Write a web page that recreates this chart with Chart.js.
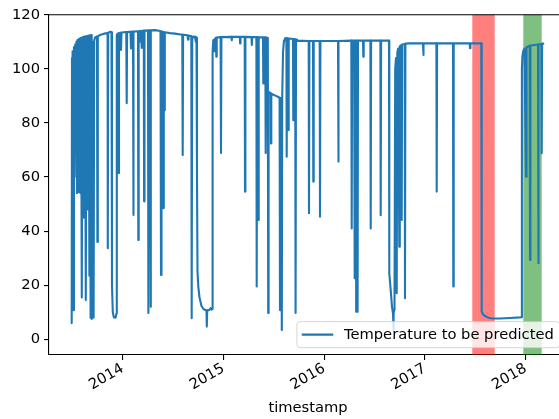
<!DOCTYPE html>
<html>
<head>
<meta charset="utf-8">
<script src="https://cdn.jsdelivr.net/npm/chart.js@4/dist/chart.umd.min.js"></script>
<style>
  html, body { margin: 0; padding: 0; background: #fff; overflow: hidden; }
  #wrap { width: 580px; height: 419px; position: relative; }
</style>
</head>
<body>
<div id="wrap"><canvas id="chart"></canvas></div>
<script>
// timestamps as decimal years
const timestamps = [
    2013.4938, 2013.4968, 2013.5027, 2013.5107, 2013.5166, 2013.5226, 2013.5285, 2013.5345,
    2013.5404, 2013.5464, 2013.5514, 2013.5583, 2013.5643, 2013.5692, 2013.5742, 2013.5802,
    2013.5861, 2013.5940, 2013.6000, 2013.6060, 2013.6119, 2013.6189, 2013.6258, 2013.6338,
    2013.6397, 2013.6457, 2013.6516, 2013.6586, 2013.6635, 2013.6695, 2013.6754, 2013.6814,
    2013.6864, 2013.6923, 2013.6973, 2013.7012, 2013.7072, 2013.7112, 2013.7171, 2013.7251,
    2013.7449, 2013.7489, 2013.7529, 2013.7747, 2013.8144, 2013.8501, 2013.8521, 2013.8561,
    2013.8789, 2013.8888, 2013.8938, 2013.9018, 2013.9117, 2013.9286, 2013.9385, 2013.9415,
    // 2014
    2013.9484, 2013.9583, 2013.9633, 2013.9782, 2013.9831, 2013.9881, 2014.0357, 2014.0397,
    2014.0437, 2014.0774, 2014.0824, 2014.0874, 2014.1023, 2014.1052, 2014.1092, 2014.1519,
    2014.1549, 2014.1588, 2014.1747, 2014.1777, 2014.1817, 2014.1866, 2014.1916, 2014.2095,
    2014.2124, 2014.2164, 2014.2511, 2014.2551, 2014.2611, 2014.2730, 2014.2769, 2014.2809,
    2014.3206, 2014.3752, 2014.3802, 2014.3851, 2014.3980, 2014.4030, 2014.4080, 2014.4129,
    2014.4179, 2014.4695, 2014.5192, 2014.5916, 2014.5956, 2014.5996, 2014.6283, 2014.6432,
    2014.6482, 2014.6532, 2014.6810, 2014.6849, 2014.6899, 2014.7028, 2014.7177, 2014.7256,
    2014.7326, 2014.7375, 2014.7425, 2014.7504, 2014.7623, 2014.7822, 2014.8020, 2014.8219,
    2014.8318, 2014.8348, 2014.8388, 2014.8616, 2014.8715, 2014.8814, 2014.8884, 2014.8924,
    2014.8993,
    // 2015
    2014.9063, 2014.9142, 2014.9261, 2014.9291, 2014.9331, 2014.9718, 2014.9757, 2014.9797,
    2015.0800, 2015.0830, 2015.0869, 2015.1624, 2015.1653, 2015.1693, 2015.2110, 2015.2140,
    2015.2179, 2015.2785, 2015.2815, 2015.2854, 2015.3271, 2015.3301, 2015.3341, 2015.3430,
    2015.3460, 2015.3499, 2015.3926, 2015.3956, 2015.3996, 2015.4155, 2015.4194, 2015.4234,
    2015.4403, 2015.4443, 2015.4482, 2015.4701, 2015.4721, 2015.4750, 2015.5217, 2015.5574,
    2015.5614, 2015.5654, 2015.5763, 2015.5793, 2015.5832,
    // 2015 - 2016
    2015.5912, 2015.6011, 2015.6110, 2015.6249, 2015.6279, 2015.6318, 2015.6407, 2015.6437,
    2015.6477, 2015.6904, 2015.6934, 2015.6973, 2015.7122, 2015.7162, 2015.7202, 2015.7301,
    2015.8463, 2015.8492, 2015.8532, 2015.8889, 2015.8919, 2015.8959, 2015.9554, 2015.9584,
    2015.9624, 2016.1371, 2016.1401, 2016.1440, 2016.2692, 2016.2731, 2016.2771, 2016.2969,
    2016.3009, 2016.3049, 2016.3138, 2016.3177, 2016.3217, 2016.3277, 2016.3316, 2016.3356,
    2016.3852, 2016.3882, 2016.3922, 2016.4587, 2016.4617, 2016.4656, 2016.5579, 2016.5609,
    2016.5649, 2016.6433, 2016.6463, 2016.6602, 2016.6731, 2016.6830, 2016.6870, 2016.6909,
    2016.6979, 2016.7048, 2016.7128, 2016.7197, 2016.7257, 2016.7346, 2016.7455, 2016.7505,
    2016.7664, 2016.7694, 2016.7733, 2016.7992, 2016.8021, 2016.8061, 2016.8518,
    // 2017
    2016.9808, 2016.9838, 2016.9877, 2017.1138, 2017.1167, 2017.1207, 2017.2785, 2017.2815,
    2017.2855, 2017.4443, 2017.4473, 2017.4513, 2017.5594, 2017.5634, 2017.5763, 2017.5962,
    2017.6289, 2017.6656, 2017.7451, 2017.8444, 2017.9436, 2017.9585,
    // 2018
    2017.9625, 2017.9674, 2017.9754, 2017.9883, 2018.0032, 2018.0081, 2018.0399, 2018.0429,
    2018.0468, 2018.1223, 2018.1253, 2018.1292, 2018.1560, 2018.1590, 2018.1630, 2018.1749
];

const temperatures = [
    6.0, 104.0, 106.5, 10.8, 108.0, 60.0, 109.0, 92.0,
    110.0, 54.0, 110.6, 54.5, 111.0, 92.0, 111.2, 54.0,
    111.5, 15.5, 111.6, 45.0, 111.8, 45.5, 112.0, 14.5,
    112.0, 48.0, 112.2, 88.0, 112.3, 23.5, 112.4, 8.0,
    112.5, 7.5, 109.5, 45.0, 110.0, 8.0, 110.5, 111.5,
    112.0, 36.0, 112.0, 112.5, 113.0, 113.2, 33.7, 113.3,
    113.7, 113.5, 20.0, 10.0, 8.2, 8.0, 9.5, 112.5,
    // 2014
    113.0, 61.5, 113.2, 113.3, 107.0, 113.4, 113.6, 87.3,
    113.6, 113.7, 107.5, 113.7, 113.8, 46.0, 113.8, 113.9,
    36.7, 113.9, 114.0, 110.0, 114.0, 107.7, 114.0, 114.1,
    51.0, 114.1, 114.2, 9.7, 114.2, 114.2, 12.0, 114.2,
    114.3, 114.0, 23.8, 113.8, 113.7, 48.5, 113.6, 84.7,
    113.5, 113.2, 113.0, 112.6, 68.1, 112.6, 112.5, 112.4,
    110.8, 112.3, 112.0, 7.8, 111.0, 111.9, 111.8, 110.0,
    111.5, 60.0, 25.0, 19.5, 15.5, 12.3, 11.2, 10.8,
    10.8, 4.7, 10.6, 10.9, 11.5, 11.0, 11.2, 106.0,
    110.6,
    // 2015
    106.5, 111.0, 111.5, 104.5, 111.6, 111.7, 68.9, 111.7,
    111.8, 110.6, 111.8, 111.8, 109.4, 111.8, 111.8, 54.6,
    111.8, 111.7, 108.8, 111.7, 111.7, 19.5, 111.7, 111.6,
    44.1, 111.6, 111.6, 94.6, 111.6, 111.6, 68.9, 111.5,
    111.5, 9.7, 91.5, 91.0, 72.4, 90.8, 90.0, 89.3,
    10.8, 89.2, 89.1, 3.4, 89.0,
    // 2015 - 2016
    106.0, 110.5, 111.3, 111.3, 67.5, 111.3, 111.2, 77.4,
    111.2, 111.0, 81.0, 111.0, 110.9, 9.7, 110.8, 110.4,
    110.3, 46.6, 110.3, 110.3, 58.3, 110.3, 110.3, 45.3,
    110.3, 110.3, 65.7, 110.3, 110.4, 41.0, 110.4, 110.4,
    22.6, 110.4, 110.4, 10.2, 110.4, 110.4, 10.2, 110.4,
    110.4, 104.5, 110.4, 110.4, 41.0, 110.4, 110.4, 45.9,
    110.4, 110.4, 24.4, 18.2, 12.0, 9.6, 3.4, 9.6,
    11.0, 100.0, 104.0, 17.0, 106.0, 107.5, 34.2, 108.3,
    108.8, 44.1, 109.0, 109.2, 15.2, 109.3, 109.4,
    // 2017
    109.4, 105.1, 109.4, 109.4, 54.6, 109.4, 109.4, 19.5,
    109.4, 109.4, 107.6, 109.4, 109.4, 10.2, 9.3, 8.6,
    8.0, 7.7, 7.7, 7.9, 8.1, 8.2,
    // 2018
    100.0, 104.5, 106.5, 107.5, 60.1, 108.0, 108.5, 29.3,
    108.6, 109.0, 28.1, 109.0, 109.2, 68.8, 109.3, 109.3
];

const yearTicks = [2014, 2015, 2016, 2017, 2018];
const tempTicks = [0, 20, 40, 60, 80, 100, 120];
const xLimits = [2013.2685, 2018.4101];
const yLimits = [-5.8, 120];
const redSpan = [2017.4701, 2017.6925];
const greenSpan = [2017.9764, 2018.1590];
const seriesLabel = 'Temperature to be predicted';
const xTitle = 'timestamp';

const FONT = '"DejaVu Sans", "Liberation Sans", sans-serif';
const FONT_SIZE = 14.7;

class TemperatureChart {
    constructor(canvasId) {
        this.canvas = document.getElementById(canvasId);
        Chart.defaults.font.family = FONT;
        Chart.defaults.font.size = FONT_SIZE;
        Chart.defaults.color = '#000';
        this.render();
    }

    spanPlugin() {
        return {
            id: 'spans',
            beforeDatasetsDraw(chart) {
                const { ctx, chartArea, scales: { x } } = chart;
                ctx.save();
                [[redSpan, 'rgba(255, 0, 0, 0.5)'], [greenSpan, 'rgba(0, 128, 0, 0.5)']].forEach(([span, color]) => {
                    const x0 = x.getPixelForValue(span[0]);
                    const x1 = x.getPixelForValue(span[1]);
                    ctx.fillStyle = color;
                    ctx.fillRect(x0, chartArea.top, x1 - x0, chartArea.bottom - chartArea.top);
                });
                ctx.restore();
            }
        };
    }

    framePlugin() {
        return {
            id: 'frame',
            afterDraw(chart) {
                const { ctx, chartArea } = chart;
                ctx.save();
                // top and right spines
                ctx.strokeStyle = '#000';
                ctx.lineWidth = 1.1;
                ctx.beginPath();
                ctx.moveTo(chartArea.left, chartArea.top);
                ctx.lineTo(chartArea.right, chartArea.top);
                ctx.lineTo(chartArea.right, chartArea.bottom);
                ctx.stroke();

                // legend, lower right inside the axes
                const fs = FONT_SIZE;
                ctx.font = `${fs}px ${FONT}`;
                const textW = ctx.measureText(seriesLabel).width;
                const pad = 0.4 * fs, handle = 2 * fs, gap = 0.8 * fs;
                const w = pad + handle + gap + textW + pad;
                const h = 26;
                const right = chartArea.right - 0.5 * fs;
                const bottom = chartArea.bottom - 0.5 * fs;
                const left = right - w, top = bottom - h;

                ctx.beginPath();
                ctx.roundRect(left, top, w, h, 3);
                ctx.fillStyle = 'rgba(255, 255, 255, 0.8)';
                ctx.fill();
                ctx.strokeStyle = 'rgba(204, 204, 204, 0.8)';
                ctx.lineWidth = 1;
                ctx.stroke();

                const cy = top + h / 2;
                ctx.beginPath();
                ctx.moveTo(left + pad, cy);
                ctx.lineTo(left + pad + handle, cy);
                ctx.strokeStyle = chart.data.datasets[0].borderColor;
                ctx.lineWidth = 2.1;
                ctx.lineCap = 'square';
                ctx.stroke();

                ctx.fillStyle = '#000';
                ctx.textBaseline = 'middle';
                ctx.textAlign = 'left';
                ctx.fillText(seriesLabel, left + pad + handle + gap, cy + 1);
                ctx.restore();
            }
        };
    }

    buildData() {
        return {
            datasets: [{
                label: seriesLabel,
                data: timestamps.map((t, i) => ({ x: t, y: temperatures[i] })),
                borderColor: '#1f77b4',
                backgroundColor: '#1f77b4',
                borderWidth: 2.1,
                pointRadius: 0,
                tension: 0,
                borderJoinStyle: 'round',
                borderCapStyle: 'round'
            }]
        };
    }

    render() {
        new Chart(this.canvas.getContext('2d'), {
            type: 'line',
            data: this.buildData(),
            options: {
                responsive: true,
                maintainAspectRatio: false,
                animation: false,
                layout: { padding: { top: 14.7, right: 13, bottom: 0, left: 0 } },
                plugins: {
                    legend: { display: false },
                    tooltip: { enabled: false }
                },
                scales: {
                    x: {
                        type: 'linear',
                        min: xLimits[0],
                        max: xLimits[1],
                        afterBuildTicks: scale => { scale.ticks = yearTicks.map(v => ({ value: v })); },
                        afterFit: scale => { scale.height = 64; },
                        ticks: {
                            callback: v => String(v),
                            minRotation: 30,
                            maxRotation: 30,
                            autoSkip: false,
                            padding: 0,
                            color: '#000'
                        },
                        grid: { drawOnChartArea: false, drawTicks: true, tickLength: 5, color: '#000', lineWidth: 1.1 },
                        border: { display: true, color: '#000', width: 1.1 },
                        title: { display: true, text: xTitle, color: '#000', padding: { top: 0, bottom: 2 } }
                    },
                    y: {
                        min: yLimits[0],
                        max: yLimits[1],
                        afterBuildTicks: scale => { scale.ticks = tempTicks.map(v => ({ value: v })); },
                        afterFit: scale => { scale.width = 49; },
                        ticks: { callback: v => String(v), padding: 4, color: '#000' },
                        grid: { drawOnChartArea: false, drawTicks: true, tickLength: 5, color: '#000', lineWidth: 1.1 },
                        border: { display: true, color: '#000', width: 1.1 }
                    }
                }
            },
            plugins: [this.spanPlugin(), this.framePlugin()]
        });
    }
}

document.addEventListener('DOMContentLoaded', () => new TemperatureChart('chart'));
</script>
</body>
</html>
